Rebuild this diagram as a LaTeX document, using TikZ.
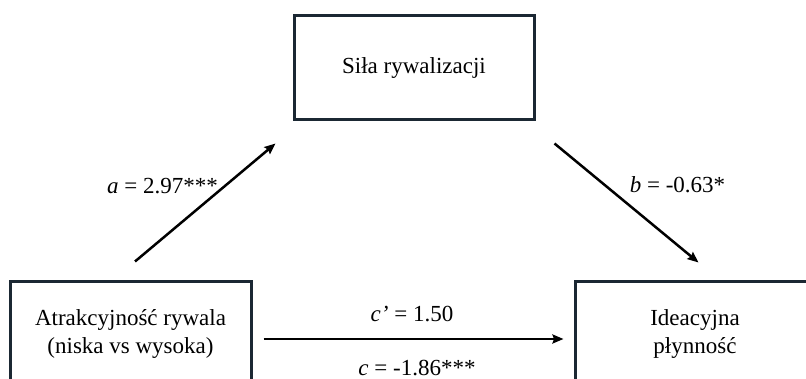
\documentclass[tikz,border=0pt]{standalone}
\usepackage{fontspec}
\setmainfont{Liberation Serif}
\usetikzlibrary{arrows.meta,calc}
\definecolor{boxc}{HTML}{1B2833}
\begin{document}
\begin{tikzpicture}[x=1pt,y=-1pt,
  box/.style={draw=boxc, line width=3pt, minimum width=240pt, minimum height=104pt, inner sep=0pt, align=center, font=\fontsize{23}{28}\selectfont},
  lab/.style={font=\fontsize{23}{28}\selectfont, anchor=base, inner sep=0pt},
  conn/.style={line width=2.5pt, -{Stealth[length=11pt,width=9pt,inset=1.5pt]}}]
\useasboundingbox (0,0) rectangle (806,379);
\clip (0,0) rectangle (806,379);
\fill[white] (0,0) rectangle (806,379);
\node[box] (m) at (414,68) {Siła rywalizacji};
\node[box, minimum width=241pt] (x) at (130.5,334) {Atrakcyjność rywala\\(niska vs wysoka)};
\node[box] (y) at (695,334) {Ideacyjna\\płynność};
\draw[conn] ($(x.north)+(4.5,-19)$) -- ($(m.south west)+(-17,22)$);
\draw[conn] ($(m.south east)+(19,22)$) -- ($(y.north west)+(125,-18)$);
\draw[conn] ($(x.east)+(11,5)$) -- ($(y.west)+(-10,5)$);
\node[lab] (la) at (162.5,194) {\textit{a} = 2.97***};
\node[lab] (lb) at (677.5,193) {\textit{b} = -0.63*};
\node[lab] (lcp) at (412,322) {\textit{c’} = 1.50};
\node[lab] (lc) at (417,375) {\textit{c} = -1.86***};
\end{tikzpicture}
\end{document}
